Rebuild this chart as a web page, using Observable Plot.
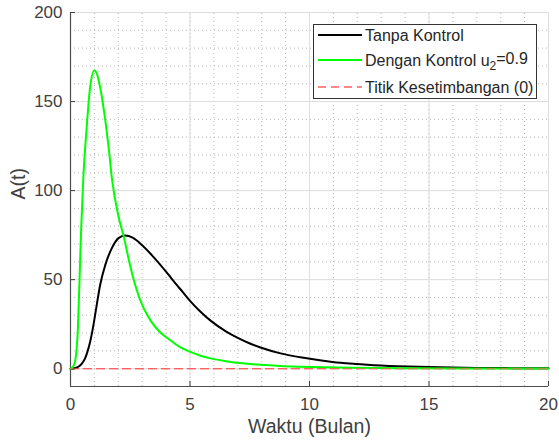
<!DOCTYPE html>
<html>
<head>
<meta charset="utf-8">
<script src="https://cdn.jsdelivr.net/npm/d3@7"></script>
<script src="https://cdn.jsdelivr.net/npm/@observablehq/plot@0.6"></script>
<style>
  html, body { margin: 0; padding: 0; background: #fff; }
  svg { font-family: "Liberation Sans", Arial, sans-serif; }
</style>
</head>
<body>
<div id="chart"></div>
<script>
// Tanpa Kontrol (black)
const tBlack = [0, 0.15, 0.33, 0.5, 0.61, 0.72, 0.82, 0.96, 1.10, 1.24, 1.45, 1.73, 2.01, 2.29, 2.6, 3.0, 3.4, 3.77, 4.1, 4.4, 4.7, 5.02, 5.44, 5.86, 6.5, 7.0, 7.53, 7.95, 8.79, 9.62, 10.5, 11.3, 12.0, 12.7, 14.1, 15.5, 17.0, 18.5, 20];
const vBlack = [0, 0.2, 1.1, 3.3, 5.8, 10, 15, 24.5, 36, 47, 58, 67.7, 73.3, 74.8, 73.6, 69.3, 63.8, 58.2, 52.8, 47.8, 43, 37.8, 32, 27, 21, 17.3, 14, 11.9, 8.6, 6.4, 4.6, 3.3, 2.6, 2.0, 1.2, 0.75, 0.45, 0.3, 0.2];
// Dengan Kontrol u2=0.9 (green)
const tGreen = [0, 0.1, 0.2, 0.31, 0.38, 0.45, 0.54, 0.68, 0.82, 1.0, 1.12, 1.24, 1.45, 1.59, 1.74, 2.0, 2.23, 2.51, 2.93, 3.35, 3.75, 4.18, 4.6, 5.02, 5.44, 5.86, 6.5, 7.53, 8.79, 9.62, 11.7, 14, 17, 20];
const vGreen = [0, 1, 4.7, 23, 51, 80, 108, 136, 158, 167.5, 165, 158, 140, 125, 106, 86, 74, 57, 38, 27, 20.5, 16, 12, 9.4, 7.3, 5.8, 4.2, 2.6, 1.5, 1.1, 0.5, 0.3, 0.15, 0.1];
// Titik Kesetimbangan (0)
const tEq = [0, 20];
const vEq = [0, 0];

const xTicks = [0, 5, 10, 15, 20];
const yTicks = [0, 50, 100, 150, 200];
const xMinor = d3.range(0, 21, 1);
const yMinor = d3.range(0, 201, 10);

const black = tBlack.map((t, i) => ({t, v: vBlack[i]}));
const green = tGreen.map((t, i) => ({t, v: vGreen[i]}));
const eq = tEq.map((t, i) => ({t, v: vEq[i]}));

const textColor = "#404040";

const plot = Plot.plot({
  width: 559,
  height: 447,
  marginLeft: 70,
  marginRight: 11,
  marginTop: 12,
  marginBottom: 61,
  style: {fontFamily: "'Liberation Sans', Arial, sans-serif", fontSize: "17px", color: textColor, background: "#fff"},
  x: {domain: [0, 20]},
  y: {domain: [-10, 200]},
  marks: [
    Plot.gridX(xMinor, {stroke: "#b8b8b8", strokeOpacity: 1, strokeDasharray: "1,3", y1: -10, y2: 200}),
    Plot.gridY(yMinor, {stroke: "#b8b8b8", strokeOpacity: 1, strokeDasharray: "1,3"}),
    Plot.gridX(xTicks, {stroke: "#dedede", strokeOpacity: 1, y1: -10, y2: 200}),
    Plot.gridY(yTicks, {stroke: "#dedede", strokeOpacity: 1}),
    Plot.axisX(xTicks, {tickSize: 0, tickPadding: 11, fontSize: 17, label: null, fill: textColor}),
    Plot.axisY(yTicks, {tickSize: 0, tickPadding: 8, fontSize: 17, label: null, fill: textColor}),
    Plot.axisX(xTicks, {tickSize: -5, text: null, label: null, stroke: textColor}),
    Plot.axisY(yTicks, {tickSize: -5, text: null, label: null, stroke: textColor}),
    Plot.ruleY([-10], {stroke: "#4d4d4d", strokeWidth: 1.2}),
    Plot.ruleX([0], {stroke: "#4d4d4d", strokeWidth: 1.2}),
    Plot.line(eq, {x: "t", y: "v", stroke: "#ff6060", strokeWidth: 1.3, strokeDasharray: "8,5"}),
    Plot.line(black, {x: "t", y: "v", stroke: "#000000", strokeWidth: 2, curve: "monotone-x"}),
    Plot.line(green, {x: "t", y: "v", stroke: "#00ff00", strokeWidth: 2, curve: "monotone-x"}),
    Plot.line(eq, {x: "t", y: "v", stroke: "#ff6060", strokeWidth: 1.3, strokeDasharray: "8,5", strokeOpacity: 0.6}),
    Plot.text(["Waktu (Bulan)"], {frameAnchor: "bottom", dy: 46, fontSize: 19.5, fill: textColor}),
    Plot.text(["A(t)"], {frameAnchor: "left", dx: -52, rotate: -90, fontSize: 19.5, fill: textColor})
  ]
});

document.getElementById("chart").appendChild(plot);

// Legend
const svg = d3.select(plot);
const lg = svg.append("g").attr("font-family", "'Liberation Sans', Arial, sans-serif")
  .attr("font-size", 16).attr("fill", "#262626").attr("text-anchor", "start");
lg.append("rect").attr("x", 313.5).attr("y", 24.5).attr("width", 223).attr("height", 74)
  .attr("fill", "#fff").attr("stroke", "#333").attr("stroke-width", 1);
const items = [
  {y: 35, color: "#000", dash: null, label: "Tanpa Kontrol"},
  {y: 60, color: "#00ff00", dash: null, label: "Dengan Kontrol u"},
  {y: 87, color: "#ff6060", dash: "8,5", label: "Titik Kesetimbangan (0)"}
];
items.forEach((it, i) => {
  lg.append("line").attr("x1", 318).attr("x2", 362).attr("y1", it.y).attr("y2", it.y)
    .attr("stroke", it.color).attr("stroke-width", it.dash ? 1.3 : 2).attr("stroke-dasharray", it.dash);
  const tx = lg.append("text").attr("x", 365).attr("y", it.y).attr("dy", "0.35em").attr("text-anchor", "start").text(it.label);
  if (i === 1) {
    tx.append("tspan").attr("dy", "0.4em").attr("font-size", 12).text("2");
    tx.append("tspan").attr("dy", "-0.4em").text("=0.9");
  }
});
</script>
</body>
</html>
